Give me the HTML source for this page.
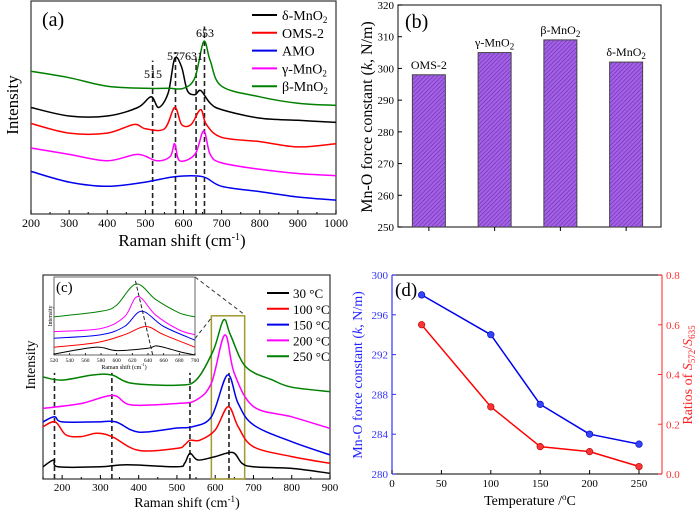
<!DOCTYPE html>
<html><head><meta charset="utf-8">
<style>
body{margin:0;background:#fff}
svg{display:block;font-family:"Liberation Serif",serif}
</style></head>
<body>
<svg id="fig" width="700" height="511" viewBox="0 0 700 511" xmlns="http://www.w3.org/2000/svg">
<defs>
<pattern id="hatch" patternUnits="userSpaceOnUse" width="3" height="3" patternTransform="rotate(45)">
<rect width="3" height="3" fill="#a461e6"/><line x1="0" y1="0" x2="0" y2="3" stroke="#6a2fb0" stroke-width="1.2"/>
</pattern>
</defs>
</svg>
<script>
// ---------- data ----------
// Panel (a)
const aX_beta=[200,300,400,500,560,600,630,653,670,700,800,900,1000];
const aY_beta=[67,64,60,59,59,59,64,81,72,60,55,52,51];
const aX_delta=[200,300,400,480,515,535,560,577,595,610,630,645,670,700,800,900,1000];
const aY_delta=[50,46,46,50,55,50,57,73,69,58,56,58,52,49,45,44,43];
const aX_oms=[200,300,400,470,500,550,577,595,620,645,660,700,800,900,1000];
const aY_oms=[42.5,38,38,42,40,40,50,42,42,49,42,36,34,31.5,33];
const aX_gamma=[200,300,400,480,530,565,577,590,630,653,670,700,800,900,1000];
const aY_gamma=[31,28,25,28,25,27,33,25,28,39,28,24,21,19,18];
const aX_amo=[200,300,400,500,577,650,700,800,900,1000];
const aY_amo=[20,15,13,15,17.5,17.5,13,10.5,8,6.5];
const aTicks=[200,300,400,500,600,700,800,900,1000];
const aPeaks=[519,579,633,655];
const aPeakTops=[72,76,73,88];
// Panel (b)
const bCats=["OMS-2","γ-MnO₂","β-MnO₂","δ-MnO₂"];
const bVals=[298,305,309,302];
const bTicks=[250,260,270,280,290,300,310,320];
// Panel (c)
const cX_30=[150,178,190,300,370,500,520,534,555,600,646,670,700,800,900];
const cY_30=[6,9.3,6,6,7,6,7.7,12.6,9.3,11,13,7.7,6,5.2,2.8];
const cX_100=[150,182,210,250,290,330,400,500,520,534,560,600,634,660,700,800,900];
const cY_100=[25.6,28,21.6,20.8,22.4,20.8,14,15,16.7,19,19,24,35.5,25.6,15.8,11,7.7];
const cX_150=[150,180,200,290,340,400,500,540,590,632,660,700,800,900];
const cY_150=[28,30.5,28,28,28,23,25,25.6,30.5,51,37,26.5,18.3,11.8];
const cX_200=[150,250,333,380,500,550,590,625,650,700,800,900];
const cY_200=[34.6,37,41,36.3,37,38.7,47,70.6,51.8,35.5,30.5,24.8];
const cX_250=[150,200,280,330,380,500,550,595,622,640,680,750,800,900];
const cY_250=[50,48.5,51,51,47,46,48.5,63,78,70.6,55,48.5,45,42.8];
const cTicks=[200,300,400,500,600,700,800,900];
const cDash=[180,330,534,636];
const iX_green=[520,580,600,625,650,680,700], iY_green=[49,56,64,91,71,54,49];
const iX_mag=[520,580,610,627,650,680,700], iY_mag=[30,34,49,75,51,32,26];
const iX_blue=[520,580,610,632,660,700], iY_blue=[21.5,26,36.5,56,36.5,19];
const iX_red=[520,575,610,637,660,700], iY_red=[10,16,26,36.5,26,10];
const iX_black=[520,573,600,640,652,680,700], iY_black=[1.3,10,5.6,8.6,11.6,4.3,0];
const iTicks=[520,540,560,580,600,620,640,660,680,700];
// Panel (d)
const dTemp=[30,100,150,200,250];
const dK=[298,294,287,284,283];
const dRatio=[0.6,0.27,0.11,0.09,0.03];
const dXTicks=[0,50,100,150,200,250];
const dLTicks=[280,284,288,292,296,300];
const dRTicks=[0,0.2,0.4,0.6,0.8];

// ---------- helpers ----------
const svg=document.getElementById('fig');
const NS='http://www.w3.org/2000/svg';
function mk(tag,at,parent){const e=document.createElementNS(NS,tag);for(const k in at)e.setAttribute(k,at[k]);(parent||svg).appendChild(e);return e;}
function lin(d0,d1,r0,r1){return v=>r0+(v-d0)/(d1-d0)*(r1-r0);}
function txt(x,y,s,size,anchor,fill,name,parent){const t=mk('text',{x:x,y:y,'font-size':size,'text-anchor':anchor||'middle',fill:fill||'#000'},parent);t.innerHTML=s;return t;}
function path(xs,ys,sx,sy,color,name,w,straight){
  const P=xs.map((v,i)=>[sx(v),sy(ys[i])]);let d='M'+P[0][0].toFixed(1)+','+P[0][1].toFixed(1);
  for(let i=0;i<P.length-1;i++){
    if(straight){d+='L'+P[i+1][0].toFixed(1)+','+P[i+1][1].toFixed(1);continue;}
    const p0=P[Math.max(0,i-1)],p1=P[i],p2=P[i+1],p3=P[Math.min(P.length-1,i+2)];
    const c1x=p1[0]+(p2[0]-p0[0])/6,c1y=p1[1]+(p2[1]-p0[1])/6,c2x=p2[0]-(p3[0]-p1[0])/6,c2y=p2[1]-(p3[1]-p1[1])/6;
    d+='C'+c1x.toFixed(1)+','+c1y.toFixed(1)+' '+c2x.toFixed(1)+','+c2y.toFixed(1)+' '+p2[0].toFixed(1)+','+p2[1].toFixed(1);
  }
  const p=mk('path',{d:d,fill:'none',stroke:color,'stroke-width':w||1.5,'stroke-linejoin':'round'});return p;}
function line(x1,y1,x2,y2,color,w,dash,name){const l=mk('line',{x1:x1,y1:y1,x2:x2,y2:y2,stroke:color||'#000','stroke-width':w||1});if(dash)l.setAttribute('stroke-dasharray',dash);return l;}
function frame(x0,y0,x1,y1,name,color){const r=mk('rect',{x:x0,y:y0,width:x1-x0,height:y1-y0,fill:'none',stroke:color||'#333','stroke-width':1.2});}

// ---------- Panel (a) ----------
{const L=31,R=336,T=1,B=214;const sx=lin(200,1000,L,R),sy=lin(0,100,B,T);
frame(L,T,R,B,'panel-a-frame');
aTicks.forEach(t=>{line(sx(t),B,sx(t),B-4,'#000',1,null,'x-tick');txt(sx(t),227,t,12,'middle','#000','x-tick-label');});
aTicks.slice(0,-1).forEach(t=>line(sx(t+50),B,sx(t+50),B-2,'#000',1,null,'x-minor-tick'));
aPeaks.forEach((p,i)=>line(sx(p),B,sx(p),sy(aPeakTops[i]),'#222',1.6,'5,3','peak-dash-line'));
path(aX_amo,aY_amo,sx,sy,'#0000ee','series-amo');
path(aX_gamma,aY_gamma,sx,sy,'#ff00ff','series-gamma-mno2');
path(aX_oms,aY_oms,sx,sy,'#ff0000','series-oms-2');
path(aX_delta,aY_delta,sx,sy,'#000','series-delta-mno2');
path(aX_beta,aY_beta,sx,sy,'#008000','series-beta-mno2');
txt(153,78,'515',12,'middle','#000','peak-label-515');
txt(185,60,'577631',12,'middle','#000','peak-label-577-631');
txt(205,37,'653',12,'middle','#000','peak-label-653');
txt(42,26,'(a)',20,'start','#000','panel-a-label');
txt(182,246,'Raman shift (cm<tspan dy="-6" font-size="10">-1</tspan><tspan dy="6">)</tspan>',17,'middle','#000','x-axis-title-a');
const yt=txt(0,0,'Intensity',17,'middle','#000','y-axis-title-a');yt.setAttribute('transform','translate(18,105) rotate(-90)');
const lg=[['δ-MnO<tspan font-size="9" dy="3">2</tspan>','#000'],['OMS-2','#ff0000'],['AMO','#0000ee'],['γ-MnO<tspan font-size="9" dy="3">2</tspan>','#ff00ff'],['β-MnO<tspan font-size="9" dy="3">2</tspan>','#008000']];
lg.forEach((g,i)=>{const y=15+i*17.8;line(252,y,277,y,g[1],2,null,'legend-line');txt(282,y+5,g[0],14,'start','#000','legend-entry');});
}

// ---------- Panel (b) ----------
{const L=398,R=661,T=5,B=227;const sy=lin(250,320,B,T);const step=(R-L)/4;
frame(L,T,R,B,'panel-b-frame');
bTicks.forEach(t=>{line(L,sy(t),L+4,sy(t),'#000',1,null,'y-tick');txt(L-4,sy(t)+4,t,11,'end','#000','y-tick-label');});
bVals.forEach((v,i)=>{const cx=L+step*(i+0.5)-2;const r=mk('rect',{x:cx-16.5,y:sy(v),width:33,height:B-sy(v),fill:'url(#hatch)',stroke:'#444','stroke-width':1});

line(cx,B,cx,B+4,'#000',1,null,'x-tick');
txt(cx,sy(v)-6,bCats[i].replace('₂','<tspan font-size="9" dy="3">2</tspan>'),12,'middle','#000','bar-label');});
txt(405,28,'(b)',20,'start','#000','panel-b-label');
const yt=txt(0,0,'Mn-O force constant (<tspan font-style="italic">k</tspan>, N/m)',16,'middle','#000','y-axis-title-b');yt.setAttribute('transform','translate(372,117) rotate(-90)');
}

// ---------- Panel (c) ----------
{const L=43,R=330,T=275,B=479;const sx=lin(150,900,L,R),sy=lin(0,100,B,T);
frame(L,T,R,B,'panel-c-frame');
cTicks.forEach(t=>{line(sx(t),B,sx(t),B-4,'#000',1,null,'x-tick');txt(sx(t),491,t,11,'middle','#000','x-tick-label');});
cTicks.forEach(t=>line(sx(t-50),B,sx(t-50),B-2,'#000',1,null,'x-minor-tick'));
cDash.forEach(p=>line(sx(p),B,sx(p),sy(52),'#222',1.6,'5,3','peak-dash-line'));
const box=mk('rect',{x:sx(590),y:sy(80),width:sx(677)-sx(590),height:B-sy(80),fill:'none',stroke:'#a09a30','stroke-width':1.5});
path(cX_30,cY_30,sx,sy,'#000','series-30c');
path(cX_100,cY_100,sx,sy,'#ff0000','series-100c');
path(cX_150,cY_150,sx,sy,'#0000ee','series-150c');
path(cX_200,cY_200,sx,sy,'#ff00ff','series-200c');
path(cX_250,cY_250,sx,sy,'#008000','series-250c');
line(195,277,245,315,'#333',1,'4,3','zoom-connector');
line(182,355,212,317,'#333',1,'4,3','zoom-connector');
// inset
const IL=54,IR=195,IT=277,IB=355;const ix=lin(520,700,IL,IR),iy=lin(0,100,IB,IT);
const bg=mk('rect',{x:IL,y:IT,width:IR-IL,height:IB-IT,fill:'#fff',stroke:'#666','stroke-width':1});
iTicks.forEach(t=>{line(ix(t),IB,ix(t),IB-2,'#000',0.8,null,'inset-tick');txt(ix(t),IB+7,t,5.5,'middle','#000','inset-tick-label');});
path(iX_black,iY_black,ix,iy,'#000','inset-30c',1);
path(iX_red,iY_red,ix,iy,'#ff0000','inset-100c',1);
path(iX_blue,iY_blue,ix,iy,'#0000ee','inset-150c',1);
path(iX_mag,iY_mag,ix,iy,'#ff00ff','inset-200c',1);
path(iX_green,iY_green,ix,iy,'#008000','inset-250c',1);
line(ix(624),iy(95),ix(646),IB,'#222',1,'4,2','inset-shift-line');
txt(124,369,'Raman shift (cm<tspan dy="-3" font-size="4">-1</tspan><tspan dy="3">)</tspan>',6,'middle','#000','inset-x-title');
const it=txt(0,0,'Intensity',6,'middle','#000','inset-y-title');it.setAttribute('transform','translate(52,316) rotate(-90)');
txt(56,292,'(c)',15,'start','#000','panel-c-label');
txt(187,507,'Raman shift (cm<tspan dy="-5" font-size="9">-1</tspan><tspan dy="5">)</tspan>',14,'middle','#000','x-axis-title-c');
const yt=txt(0,0,'Intensity',14,'middle','#000','y-axis-title-c');yt.setAttribute('transform','translate(35,365) rotate(-90)');
const lab=['30 °C','100 °C','150 °C','200 °C','250 °C'],col=['#000','#ff0000','#0000ee','#ff00ff','#008000'];
lab.forEach((s,i)=>{const y=293+i*15.8;line(267,y,289,y,col[i],2,null,'legend-line');txt(293,y+5,s,13,'start','#000','legend-entry');});
}

// ---------- Panel (d) ----------
{const L=392,R=662,T=275,B=474;const sx=lin(0,250,L,639),sl=lin(280,300,B,T),sr=lin(0,0.8,B,T);
line(L,T,L,B,'#3333ff',1.2,null,'left-axis');line(R,T,R,B,'#ff4444',1.2,null,'right-axis');
line(L,B,R,B,'#333',1.2,null,'bottom-axis');line(L,T,R,T,'#333',1.2,null,'top-axis');
dXTicks.forEach(t=>{line(sx(t),B,sx(t),B-4,'#000',1,null,'x-tick');txt(sx(t),487,t,11,'middle','#000','x-tick-label');});
dLTicks.forEach(t=>{line(L,sl(t),L+4,sl(t),'#3333ff',1,null,'y-tick-left');txt(L-4,sl(t)+4,t,11,'end','#3333ff','y-tick-label-left');});
dRTicks.forEach(t=>{line(R,sr(t),R-4,sr(t),'#ff3333',1,null,'y-tick-right');txt(R+4,sr(t)+4,t.toFixed(1),11,'start','#ff3333','y-tick-label-right');});
path(dTemp,dK,sx,sl,'#0000ee','line-force-constant',1.5,true);
path(dTemp,dRatio,sx,sr,'#ff0000','line-ratio',1.5,true);
dTemp.forEach((t,i)=>{const c=mk('circle',{cx:sx(t),cy:sl(dK[i]),r:3.3,fill:'#3344ff',stroke:'#0000aa','stroke-width':0.6});
const c2=mk('circle',{cx:sx(t),cy:sr(dRatio[i]),r:3.3,fill:'#ff3333',stroke:'#aa0000','stroke-width':0.6});});
txt(395,296,'(d)',19,'start','#000','panel-d-label');
txt(530,505,'Temperature /<tspan dy="-5" font-size="9">o</tspan><tspan dy="5">C</tspan>',14,'middle','#000','x-axis-title-d');
const yl=txt(0,0,'Mn-O force constant (<tspan font-style="italic">k</tspan>, N/m)',14,'middle','#2222ff','y-axis-title-left');yl.setAttribute('transform','translate(362,375) rotate(-90)');
const yr=txt(0,0,'Ratios of <tspan font-style="italic">S</tspan><tspan font-size="9" dy="3">572</tspan><tspan dy="-3">/</tspan><tspan font-style="italic">S</tspan><tspan font-size="9" dy="3">635</tspan>',14,'middle','#ff2222','y-axis-title-right');yr.setAttribute('transform','translate(692,375) rotate(-90)');
}
</script>
</body></html>
